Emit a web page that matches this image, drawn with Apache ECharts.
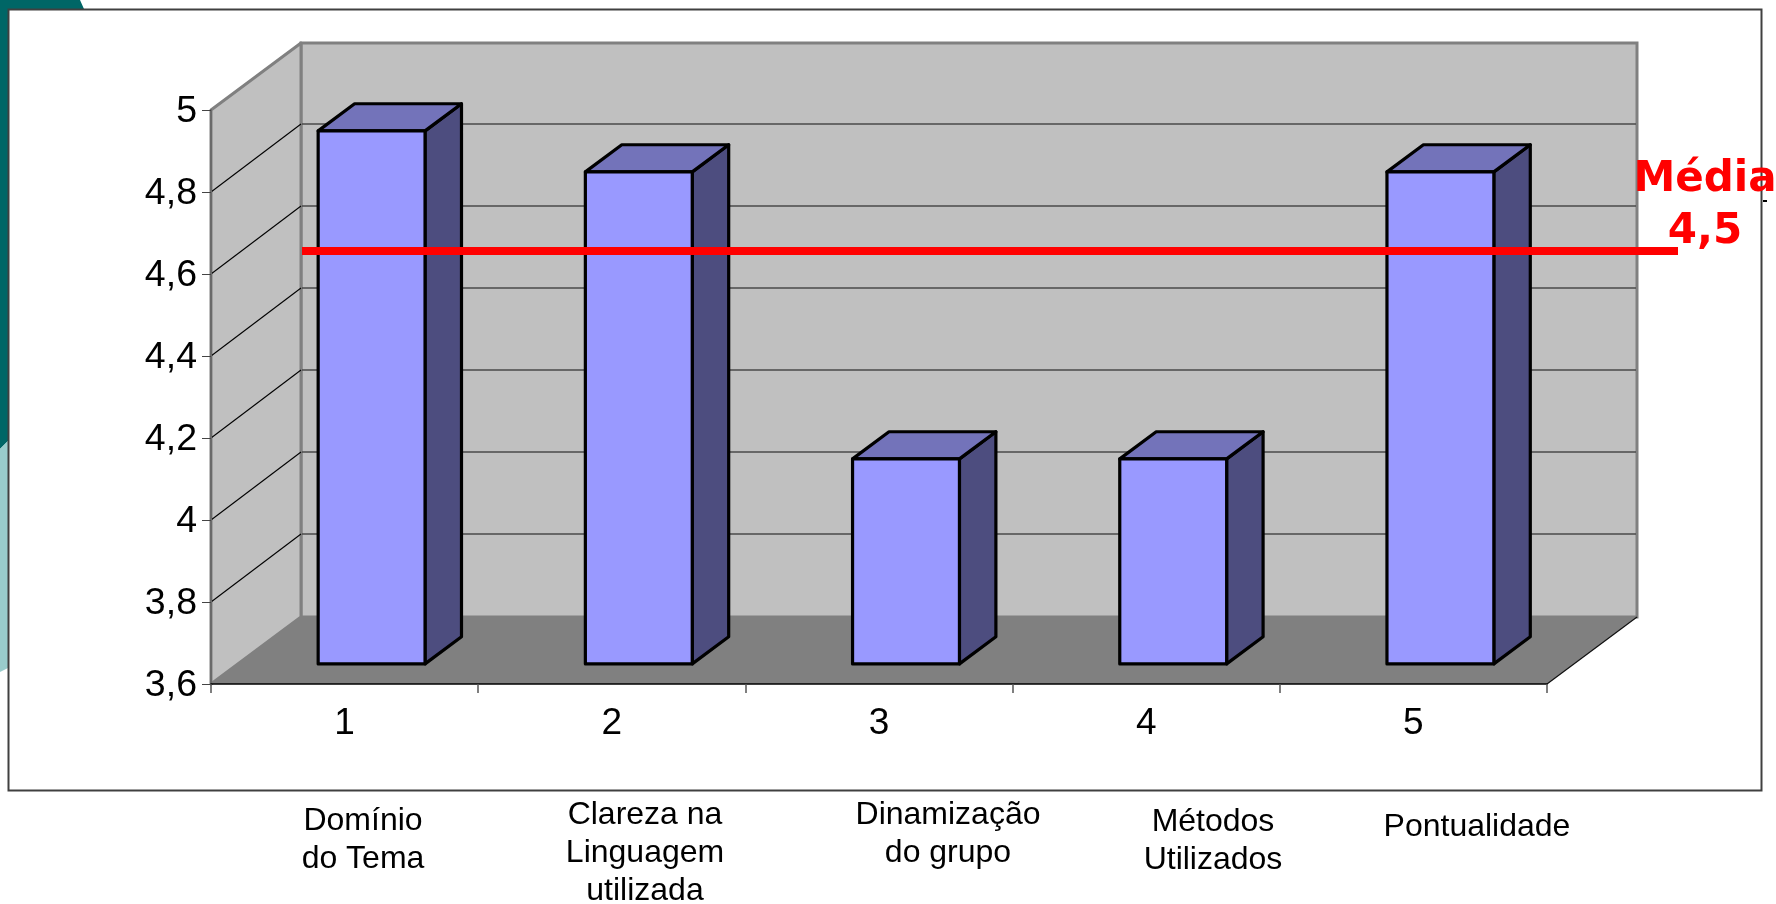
<!DOCTYPE html>
<html>
<head>
<meta charset="utf-8">
<style>html,body{margin:0;padding:0;background:#fff}#c{width:1776px;height:904px}</style>
<script src="https://cdn.jsdelivr.net/npm/echarts@6/dist/echarts.min.js"></script>
</head>
<body>
<div id="c"></div>
<script>
// Data
const categories = ['1', '2', '3', '4', '5'];
const barValues = [4.9, 4.8, 4.1, 4.1, 4.8];
const yMin = 3.6, yMax = 5, yStep = 0.2;
const gridValues = [3.8, 4, 4.2, 4.4, 4.6, 4.8];
const mediaValue = 4.5;
const captionTexts = ['Domínio\ndo Tema', 'Clareza na\nLinguagem\nutilizada', 'Dinamização\ndo grupo', 'Métodos\nUtilizados', 'Pontualidade'];
const mediaText = 'Média\n4,5';

// Oblique projection of the depth axis (pixels for full depth)
const DEPTH_X = 90, DEPTH_Y = 67;
const BAR_NEAR = 0.3, BAR_FAR = 0.705;  // bar extent along depth
const BAR_WIDTH_RATIO = 0.4;

const pts = a => ({ points: a });
const poly = (a, fill, stroke, lw, join) => ({ type: 'polygon', shape: pts(a), style: { fill, stroke: stroke || null, lineWidth: lw || 0, lineJoin: join || 'miter' } });
const seg = (x1, y1, x2, y2, stroke, lw) => ({ type: 'line', shape: { x1, y1, x2, y2 }, style: { stroke, lineWidth: lw } });

function renderRoom(params) {
  const c = params.coordSys;
  const l = c.x, r = c.x + c.width, t = c.y, b = c.y + c.height;
  const dx = DEPTH_X, dy = DEPTH_Y;
  return { type: 'group', children: [
    poly([[l + dx, t - dy], [r + dx, t - dy], [r + dx, b - dy], [l + dx, b - dy]], '#C0C0C0', '#808080', 3),
    poly([[l, t], [l + dx, t - dy], [l + dx, b - dy], [l, b]], '#C0C0C0', '#808080', 3, 'round'),
    poly([[l, b], [r, b], [r + dx, b - dy], [l + dx, b - dy]], '#808080'),
    seg(r, b, r + dx, b - dy, '#101010', 1.2)
  ] };
}
function renderGridline(params, api) {
  const c = params.coordSys;
  const y = api.coord([0, api.value(0)])[1];
  const l = c.x, r = c.x + c.width;
  return { type: 'group', children: [
    seg(l, y, l + DEPTH_X, y - DEPTH_Y - 1, '#000', 1.1),
    seg(l + DEPTH_X + 1, y - DEPTH_Y - 1, r + DEPTH_X - 1, y - DEPTH_Y - 1, '#4a4a4a', 1.5)
  ] };
}
function renderBar(params, api) {
  const top = api.coord([api.value(0), api.value(1)]);
  const base = api.coord([api.value(0), yMin]);
  const w = api.size([1, 0])[0] * BAR_WIDTH_RATIO;
  const x0 = top[0] - w / 2 + DEPTH_X * BAR_NEAR;
  const x1 = x0 + w;
  const yT = top[1] - DEPTH_Y * BAR_NEAR;
  const yB = base[1] - DEPTH_Y * BAR_NEAR;
  const ddx = DEPTH_X * (BAR_FAR - BAR_NEAR), ddy = DEPTH_Y * (BAR_FAR - BAR_NEAR);
  return { type: 'group', children: [
    poly([[x1, yT], [x1 + ddx, yT - ddy], [x1 + ddx, yB - ddy], [x1, yB]], '#4D4D7F', '#000', 3.2, 'round'),
    poly([[x0, yT], [x0 + ddx, yT - ddy], [x1 + ddx, yT - ddy], [x1, yT]], '#7373BA', '#000', 3.2, 'round'),
    poly([[x0, yT], [x1, yT], [x1, yB], [x0, yB]], '#9999FF', '#000', 3.2, 'round')
  ] };
}
function renderMedia(params, api) {
  const c = params.coordSys;
  const y = api.coord([0, api.value(0)])[1] - DEPTH_Y + 3;
  return { type: 'rect', shape: { x: c.x + DEPTH_X + 1, y: y - 4, width: 1376, height: 8 }, style: { fill: '#FF0000' } };
}

const captionFont = { fontFamily: '"Liberation Sans", Arial, sans-serif', fontSize: 32, lineHeight: 38, fill: '#000', textAlign: 'center', textVerticalAlign: 'middle' };
const captionPlaces = [[363, 840], [645, 853], [948, 834], [1213, 841], [1477, 827]];

const option = {
  animation: false,
  backgroundColor: '#fff',
  grid: { left: 211, right: 229, top: 110, bottom: 220, containLabel: false },
  xAxis: {
    type: 'category', data: categories, z: 5,
    axisLine: { lineStyle: { color: '#000', width: 1.5 } },
    axisTick: { show: true, alignWithLabel: false, length: 9, lineStyle: { color: '#555', width: 1.5 } },
    axisLabel: { color: '#000', fontSize: 37, fontFamily: '"Liberation Sans", Arial, sans-serif', margin: 21 },
    splitLine: { show: false }
  },
  yAxis: {
    type: 'value', min: yMin, max: yMax, interval: yStep, z: 5,
    axisLine: { show: true, lineStyle: { color: '#6a6a6a', width: 2 } },
    axisTick: { show: true, length: 9, lineStyle: { color: '#444', width: 1 } },
    axisLabel: {
      color: '#000', fontSize: 37.5, fontFamily: '"Liberation Sans", Arial, sans-serif', margin: 14,
      verticalAlign: 'top', lineHeight: 4,
      formatter: v => String(+v.toFixed(1)).replace('.', ',')
    },
    splitLine: { show: false }
  },
  series: [
    { type: 'custom', silent: true, z: 1, coordinateSystem: 'cartesian2d', clip: false, renderItem: renderRoom, data: [[0, yMin]], encode: { x: 0, y: 1 } },
    { type: 'custom', silent: true, z: 2, coordinateSystem: 'cartesian2d', clip: false, renderItem: renderGridline, data: gridValues.map(v => [v]), encode: { y: 0 } },
    { type: 'custom', silent: true, z: 3, coordinateSystem: 'cartesian2d', clip: false, renderItem: renderBar, data: barValues.map((v, i) => [i, v]), encode: { x: 0, y: 1 } },
    { type: 'custom', silent: true, z: 4, coordinateSystem: 'cartesian2d', clip: false, renderItem: renderMedia, data: [[mediaValue]], encode: { y: 0 } }
  ],
  graphic: [
    // slide backdrop shapes and chart frame
    { type: 'polygon', z: -20, silent: true, shape: pts([[0, 0], [80, 0], [84, 9], [8, 9], [8, 441], [0, 449]]), style: { fill: '#006666' } },
    { type: 'polygon', z: -20, silent: true, shape: pts([[0, 449], [8, 441], [8, 668], [0, 672]]), style: { fill: '#99CCCC' } },
    { type: 'rect', z: -10, silent: true, shape: { x: 8.5, y: 9.5, width: 1753, height: 781 }, style: { fill: '#fff', stroke: '#404040', lineWidth: 2 } },
    { type: 'rect', z: -9, silent: true, shape: { x: 1763, y: 200, width: 4, height: 2 }, style: { fill: '#000' } },
    ...captionTexts.map((t, i) => ({
      type: 'text', z: 10, silent: true, x: captionPlaces[i][0], y: captionPlaces[i][1],
      style: Object.assign({ text: t }, captionFont)
    })),
    { type: 'text', z: 20, silent: true, x: 1705, y: 206,
      style: { text: mediaText, fontFamily: '"DejaVu Sans", sans-serif', fontWeight: 'bold', fontSize: 42, lineHeight: 52, fill: '#FF0000', textAlign: 'center', textVerticalAlign: 'middle' } }
  ]
};
const chart = echarts.init(document.getElementById('c'), null, { renderer: 'canvas' });
chart.setOption(option);
</script>
</body>
</html>
